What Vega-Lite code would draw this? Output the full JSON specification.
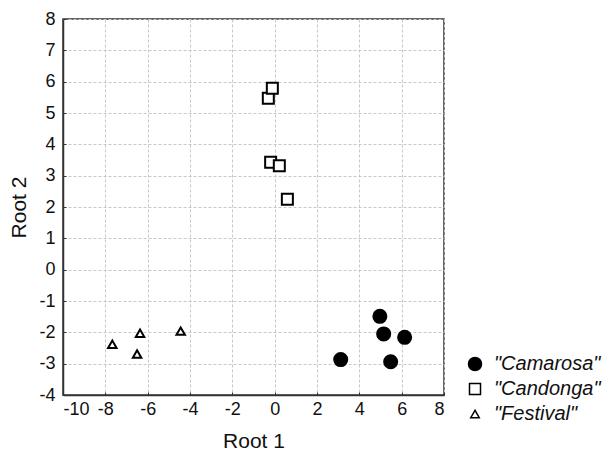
{
  "$schema": "https://vega.github.io/schema/vega-lite/v6.json",
  "width": 381,
  "height": 376,
  "autosize": "none",
  "padding": {"left": 63, "top": 19, "right": 161, "bottom": 57},
  "background": "white",
  "config": {
    "view": {"stroke": "#333333", "strokeWidth": 1.5},
    "font": "Liberation Sans"
  },
  "data": {
    "values": [
      {"root1": -0.30, "root2": 5.47, "cultivar": "\"Candonga\""},
      {"root1": -0.11, "root2": 5.79, "cultivar": "\"Candonga\""},
      {"root1": -0.19, "root2": 3.43, "cultivar": "\"Candonga\""},
      {"root1": 0.22, "root2": 3.32, "cultivar": "\"Candonga\""},
      {"root1": 0.60, "root2": 2.25, "cultivar": "\"Candonga\""},
      {"root1": -7.67, "root2": -2.38, "cultivar": "\"Festival\""},
      {"root1": -6.36, "root2": -2.03, "cultivar": "\"Festival\""},
      {"root1": -6.50, "root2": -2.69, "cultivar": "\"Festival\""},
      {"root1": -4.44, "root2": -1.96, "cultivar": "\"Festival\""},
      {"root1": 4.97, "root2": -1.49, "cultivar": "\"Camarosa\""},
      {"root1": 5.15, "root2": -2.05, "cultivar": "\"Camarosa\""},
      {"root1": 6.14, "root2": -2.16, "cultivar": "\"Camarosa\""},
      {"root1": 3.12, "root2": -2.87, "cultivar": "\"Camarosa\""},
      {"root1": 5.48, "root2": -2.94, "cultivar": "\"Camarosa\""}
    ]
  },
  "mark": {"type": "point", "stroke": "black", "strokeWidth": 2, "opacity": 1},
  "encoding": {
    "x": {
      "field": "root1", "type": "quantitative",
      "scale": {"domain": [-10, 8], "nice": false, "zero": false},
      "axis": {
        "title": "Root 1", "values": [-10, -8, -6, -4, -2, 0, 2, 4, 6, 8],
        "labelExpr": "replace(datum.label, '−', '-')",
        "labelFontSize": 18, "labelColor": "#111", "titleFontSize": 21, "titleFontWeight": "normal", "titleColor": "#111",
        "labelPadding": 8, "tickSize": -3, "tickColor": "#333", "domainColor": "#333", "domainWidth": 1.5,
        "gridColor": "#c8c8c8", "gridDash": [3, 2], "gridWidth": 1, "titlePadding": 12
      }
    },
    "y": {
      "field": "root2", "type": "quantitative",
      "scale": {"domain": [-4, 8], "nice": false, "zero": false},
      "axis": {
        "title": "Root 2", "values": [-4, -3, -2, -1, 0, 1, 2, 3, 4, 5, 6, 7, 8],
        "labelExpr": "replace(datum.label, '−', '-')",
        "labelFontSize": 18, "labelColor": "#111", "titleFontSize": 21, "titleFontWeight": "normal", "titleColor": "#111",
        "labelPadding": 11, "tickSize": -3, "tickColor": "#333", "domainColor": "#333", "domainWidth": 1.5,
        "gridColor": "#c8c8c8", "gridDash": [3, 2], "gridWidth": 1, "titlePadding": 9
      }
    },
    "shape": {
      "field": "cultivar", "type": "nominal",
      "scale": {"domain": ["\"Camarosa\"", "\"Candonga\"", "\"Festival\""], "range": ["circle", "square", "triangle-up"]},
      "legend": {
        "title": null, "orient": "none", "legendX": 402, "legendY": 335,
        "labelFontSize": 20, "labelFontStyle": "italic", "labelColor": "#111",
        "rowPadding": 5, "labelOffset": 9, "symbolStrokeWidth": 1.5
      }
    },
    "fill": {
      "field": "cultivar", "type": "nominal",
      "scale": {"domain": ["\"Camarosa\"", "\"Candonga\"", "\"Festival\""], "range": ["black", "white", "white"]},
      "legend": {
        "title": null, "orient": "none", "legendX": 402, "legendY": 335,
        "labelFontSize": 20, "labelFontStyle": "italic", "labelColor": "#111",
        "rowPadding": 5, "labelOffset": 9, "symbolStrokeWidth": 1.5
      }
    },
    "size": {
      "field": "cultivar", "type": "nominal",
      "scale": {"domain": ["\"Camarosa\"", "\"Candonga\"", "\"Festival\""], "range": [170, 72, 82]},
      "legend": {
        "title": null, "orient": "none", "legendX": 402, "legendY": 335,
        "labelFontSize": 20, "labelFontStyle": "italic", "labelColor": "#111",
        "rowPadding": 5, "labelOffset": 9, "symbolStrokeWidth": 1.5
      }
    }
  }
}
